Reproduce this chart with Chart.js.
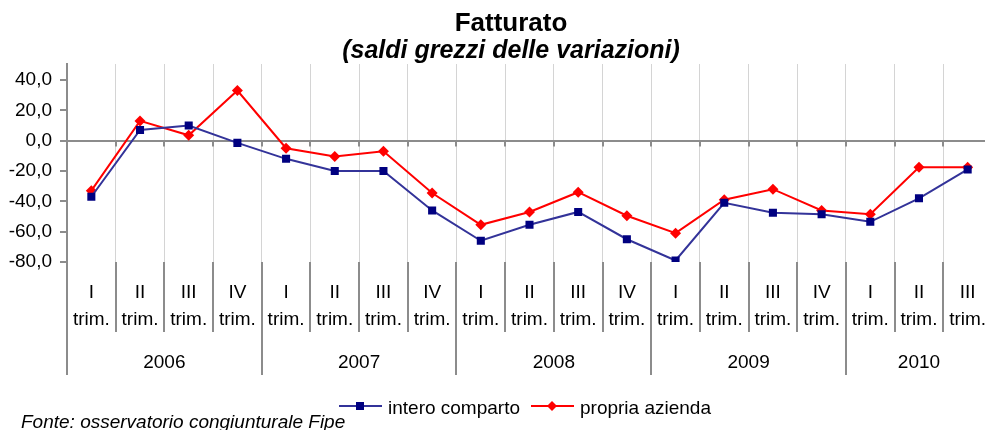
<!DOCTYPE html>
<html>
<head>
<meta charset="utf-8">
<script src="https://cdn.jsdelivr.net/npm/chart.js@4/dist/chart.umd.min.js"></script>
<style>
  html, body { margin: 0; padding: 0; overflow: hidden; background: #fff; }
  canvas { display: block; }
</style>
</head>
<body>
<canvas id="fatturato" width="1022" height="430"></canvas>
<script>
const FONT = "'Liberation Sans', Arial, sans-serif";

// categorie (trimestri e anni)
const quarters = ["I", "II", "III", "IV", "I", "II", "III", "IV", "I", "II", "III", "IV",
                  "I", "II", "III", "IV", "I", "II", "III"];
const yearLabels = ["2006", "2006", "2006", "2006", "2007", "2007", "2007", "2007",
                    "2008", "2008", "2008", "2008", "2009", "2009", "2009", "2009",
                    "2010", "2010", "2010"];

// serie
const interoComparto = [-37, 7, 10, -1.5, -12, -20, -20, -46, -66, -55.5, -47, -65,
                        -79, -41, -47.5, -48.5, -53.5, -38, -19];
const propriaAzienda = [-33, 13, 3.5, 33, -5, -10.5, -7, -34.5, -55.5, -47, -34, -49.5,
                        -61, -39, -32, -46, -48.5, -17.5, -17.5];

// tick asse y
const yTicks = [-80, -60, -40, -20, 0, 20, 40];

const labels = quarters.map((q, i) => q + " trim. " + yearLabels[i]);

// assi a due livelli, legenda e fonte
const extras = {
  id: "extras",
  afterDraw(chart) {
    const { ctx, chartArea } = chart;
    const x = chart.scales.x, y = chart.scales.y;
    const half = (x.getPixelForValue(1) - x.getPixelForValue(0)) / 2;
    const zeroY = y.getPixelForValue(0);
    ctx.save();
    ctx.strokeStyle = "#8c8c8c";
    ctx.lineWidth = 2;
    for (let i = 0; i <= quarters.length; i++) {
      const left = Math.round((i < quarters.length ? x.getPixelForValue(i) : x.getPixelForValue(i - 1) + 2 * half) - half);
      const newYear = i === 0 || i === quarters.length || yearLabels[i] !== yearLabels[i - 1];
      ctx.beginPath();
      ctx.moveTo(left, zeroY);
      ctx.lineTo(left, zeroY + 6);
      ctx.moveTo(left, chartArea.bottom);
      ctx.lineTo(left, newYear ? 375 : 332);
      ctx.stroke();
    }

    ctx.fillStyle = "#000";
    ctx.font = "19px " + FONT;
    ctx.textAlign = "center";
    ctx.textBaseline = "alphabetic";
    quarters.forEach((q, i) => {
      const cx = x.getPixelForValue(i);
      ctx.fillText(q, cx, 298);
      ctx.fillText("trim.", cx, 325);
    });
    let start = 0;
    for (let i = 1; i <= yearLabels.length; i++) {
      if (i === yearLabels.length || yearLabels[i] !== yearLabels[start]) {
        const cx = (x.getPixelForValue(start) + x.getPixelForValue(i - 1)) / 2;
        ctx.fillText(yearLabels[start], cx, 368);
        start = i;
      }
    }

    // legenda
    const legendX = [339, 531];
    ctx.textAlign = "left";
    chart.data.datasets.forEach((ds, k) => {
      const lx = legendX[k], ly = 406;
      ctx.strokeStyle = ds.borderColor;
      ctx.lineWidth = 2;
      ctx.beginPath();
      ctx.moveTo(lx, ly);
      ctx.lineTo(lx + 43, ly);
      ctx.stroke();
      ctx.fillStyle = ds.pointBackgroundColor;
      ctx.beginPath();
      if (ds.pointStyle === "rect") {
        ctx.rect(lx + 17, ly - 4, 8, 8);
      } else {
        ctx.moveTo(lx + 21, ly - 5);
        ctx.lineTo(lx + 26, ly);
        ctx.lineTo(lx + 21, ly + 5);
        ctx.lineTo(lx + 16, ly);
        ctx.closePath();
      }
      ctx.fill();
      ctx.fillStyle = "#000";
      ctx.fillText(ds.label, lx + 49, 414);
    });

    ctx.font = "italic 19px " + FONT;
    ctx.fillText("Fonte: osservatorio congiunturale Fipe", 21, 428);
    ctx.restore();
  }
};

new Chart(document.getElementById("fatturato"), {
  type: "line",
  data: {
    labels: labels,
    datasets: [
      {
        label: "intero comparto",
        data: interoComparto,
        borderColor: "#333399",
        borderWidth: 2,
        pointStyle: "rect",
        pointRadius: 5.7,
        pointBackgroundColor: "#000080",
        pointBorderColor: "#000080",
        pointBorderWidth: 0,
        tension: 0
      },
      {
        label: "propria azienda",
        data: propriaAzienda,
        borderColor: "#ff0000",
        borderWidth: 2,
        pointStyle: "rectRot",
        pointRadius: 5.5,
        pointBackgroundColor: "#ff0000",
        pointBorderColor: "#ff0000",
        pointBorderWidth: 0,
        tension: 0
      }
    ]
  },
  options: {
    responsive: false,
    animation: false,
    layout: { padding: { top: 0, left: 0, right: 0, bottom: 168 } },
    plugins: {
      legend: { display: false },
      tooltip: { enabled: false },
      title: {
        display: true,
        text: "Fatturato",
        color: "#000",
        font: { family: FONT, size: 26, weight: "bold", lineHeight: 1 },
        padding: { top: 11, bottom: 0 }
      },
      subtitle: {
        display: true,
        text: "(saldi grezzi delle variazioni)",
        color: "#000",
        font: { family: FONT, size: 25, weight: "bold", style: "italic", lineHeight: 1 },
        padding: { top: 2, bottom: 0 }
      }
    },
    scales: {
      x: {
        offset: true,
        ticks: { display: false },
        grid: { offset: true, color: "#d4d4d4", lineWidth: 1, drawTicks: false },
        border: { display: false }
      },
      y: {
        min: -80,
        max: 50.5,
        afterBuildTicks: s => { s.ticks = yTicks.map(v => ({ value: v })); },
        afterFit: s => { s.width = 67; },
        ticks: {
          color: "#000",
          padding: 8,
          font: { family: FONT, size: 19 },
          callback: v => v.toFixed(1).replace(".", ",")
        },
        grid: {
          color: c => (c.tick && c.tick.value === 0 ? "#8c8c8c" : "rgba(0,0,0,0)"),
          lineWidth: 2,
          tickColor: "#8c8c8c",
          tickLength: 7
        },
        border: { color: "#8c8c8c", width: 2 }
      },
      yR: {
        type: "linear",
        position: "right",
        display: true,
        ticks: { display: false },
        grid: { display: false, drawTicks: false },
        border: { display: false },
        afterFit: s => { s.width = 30; }
      }
    }
  },
  plugins: [extras]
});
</script>
</body>
</html>
